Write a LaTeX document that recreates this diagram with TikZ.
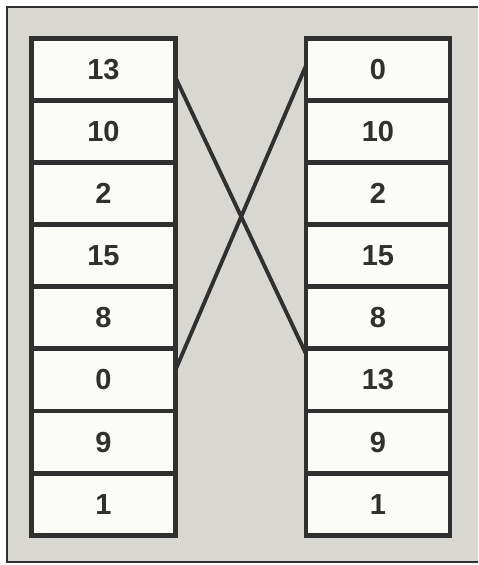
\documentclass[tikz,border=0pt]{standalone}
\usepackage{fontspec}
\setmainfont{Liberation Sans}
\usepackage{tikz}
\usetikzlibrary{positioning,calc}

\definecolor{paper}{HTML}{D9D7D2}
\definecolor{ink}{HTML}{303030}
\definecolor{cellfill}{HTML}{FBFBF8}

\begin{document}
\begin{tikzpicture}[
    x=0.02cm, y=-0.02cm,
    cell/.style={draw=ink, fill=cellfill, line width=2.8pt, outer sep=0pt,
                 minimum width=2.88cm, minimum height=1.242cm,
                 text=ink, font=\fontsize{16.5}{19}\selectfont\bfseries},
    frame/.style={draw=ink, line width=1.6pt},
    link/.style={draw=ink, line width=2.2pt}
]
\useasboundingbox (0,0) rectangle (478,565);

% Background panel
\fill[paper] (7,7) rectangle (478,562);
\draw[frame] (478,7) -- (7,7) -- (7,562) -- (478,562);

% Left column (before)
\node[cell] (L1) at (103.5,69.5) {13};
\node[cell, below=0pt of L1] (L2) {10};
\node[cell, below=0pt of L2] (L3) {2};
\node[cell, below=0pt of L3] (L4) {15};
\node[cell, below=0pt of L4] (L5) {8};
\node[cell, below=0pt of L5] (L6) {0};
\node[cell, below=0pt of L6] (L7) {9};
\node[cell, below=0pt of L7] (L8) {1};

% Right column (after)
\node[cell] (R1) at (378,69.5) {0};
\node[cell, below=0pt of R1] (R2) {10};
\node[cell, below=0pt of R2] (R3) {2};
\node[cell, below=0pt of R3] (R4) {15};
\node[cell, below=0pt of R4] (R5) {8};
\node[cell, below=0pt of R5] (R6) {13};
\node[cell, below=0pt of R6] (R7) {9};
\node[cell, below=0pt of R7] (R8) {1};

% Swap lines
\draw[link] ($(L1.east)+(0,8)$) -- ($(R6.north west)+(0,5)$);
\draw[link] ($(L6.east)+(0,-10)$) -- ($(R1.west)+(0,-4)$);
\end{tikzpicture}
\end{document}
